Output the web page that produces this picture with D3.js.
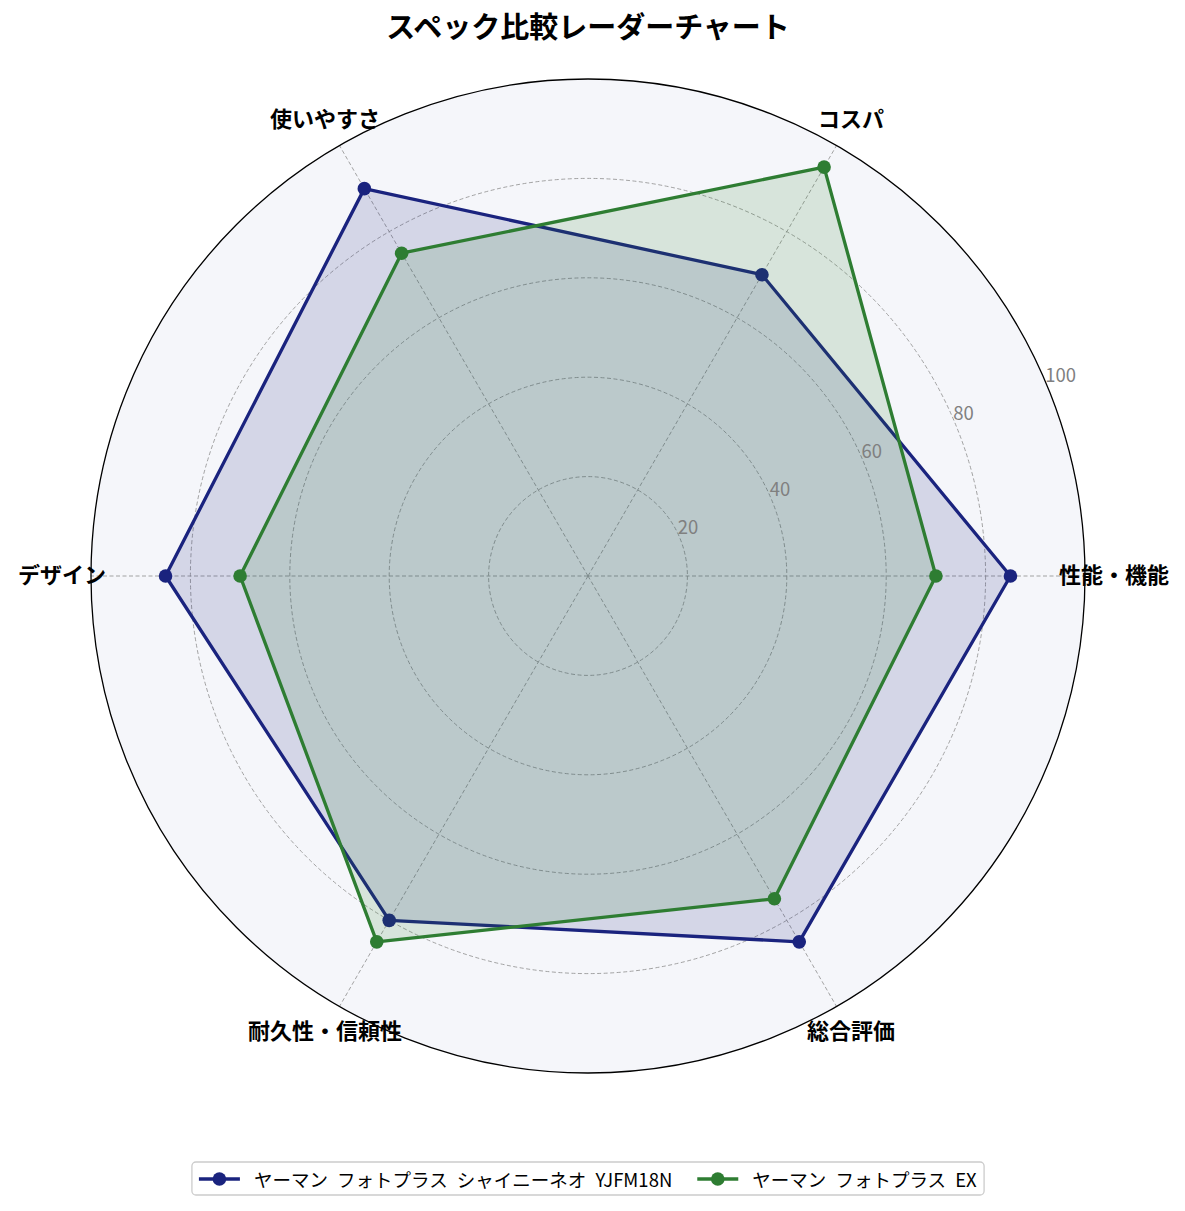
<!DOCTYPE html>
<html>
<head>
<meta charset="utf-8">
<script src="https://cdn.jsdelivr.net/npm/d3@7"></script>
<style>
  body { margin: 0; background: #fff; }
  svg { display: block; font-family: "Noto Sans CJK JP", "Noto Sans", sans-serif; }
</style>
</head>
<body>
<svg></svg>
<script>
const categories = ["性能・機能", "コスパ", "使いやすさ", "デザイン", "耐久性・信頼性", "総合評価"];
const seriesNames = ["ヤーマン フォトプラス シャイニーネオ YJFM18N", "ヤーマン フォトプラス EX"];
const seriesColors = ["#1a237e", "#2e7d32"];
const neoValues = [85, 70, 90, 85, 80, 85];
const exValues = [70, 95, 75, 70, 85, 75];
const ticks = [20, 40, 60, 80, 100];

const width = 1185,
    height = 1211,
    cx = 588,
    cy = 576,
    outer = 497;

const svg = d3.select("svg")
    .attr("width", width)
    .attr("height", height);

const r = d3.scaleLinear().domain([0, 100]).range([0, outer]);
// angles counter-clockwise from the right, like matplotlib polar
const angle = d3.scaleLinear().domain([0, categories.length]).range([0, 2 * Math.PI]);
const px = (i, v) => cx + r(v) * Math.cos(angle(i));
const py = (i, v) => cy - r(v) * Math.sin(angle(i));

// title
svg.append("text")
    .attr("x", cx)
    .attr("y", 38)
    .attr("text-anchor", "middle")
    .attr("font-size", 29)
    .attr("font-weight", "bold")
    .text("スペック比較レーダーチャート");

// plot background
svg.append("circle")
    .attr("cx", cx).attr("cy", cy).attr("r", outer)
    .attr("fill", "#f5f6fa");

// grid circles
svg.selectAll(".grid")
    .data(ticks.slice(0, -1))
    .join("circle")
    .attr("cx", cx).attr("cy", cy)
    .attr("r", d => r(d))
    .attr("fill", "none")
    .attr("stroke", "#999")
    .attr("stroke-width", 0.9)
    .attr("stroke-dasharray", "4,2.5");

// spokes
svg.selectAll(".spoke")
    .data(categories)
    .join("line")
    .attr("x1", cx).attr("y1", cy)
    .attr("x2", (d, i) => px(i, 100))
    .attr("y2", (d, i) => py(i, 100))
    .attr("stroke", "#999")
    .attr("stroke-width", 0.9)
    .attr("stroke-dasharray", "4,2.5");

const line = d3.line().x(d => d[0]).y(d => d[1]).curve(d3.curveLinearClosed);

[neoValues, exValues].forEach((vals, s) => {
    const pts = vals.map((v, i) => [px(i, v), py(i, v)]);
    const g = svg.append("g");
    g.append("path")
        .attr("d", line(pts))
        .attr("fill", seriesColors[s])
        .attr("fill-opacity", 0.15)
        .attr("stroke", "none");
    g.append("path")
        .attr("d", line(pts))
        .attr("fill", "none")
        .attr("stroke", seriesColors[s])
        .attr("stroke-width", 3.3)
        .attr("stroke-linejoin", "round");
    g.selectAll("circle")
        .data(pts)
        .join("circle")
        .attr("cx", d => d[0]).attr("cy", d => d[1])
        .attr("r", 6.8)
        .attr("fill", seriesColors[s]);
});

// outer frame
svg.append("circle")
    .attr("cx", cx).attr("cy", cy).attr("r", outer)
    .attr("fill", "none")
    .attr("stroke", "#000")
    .attr("stroke-width", 1.3);

// radial tick labels at 22.5 degrees
const tickAngle = 22.5 * Math.PI / 180;
svg.selectAll(".rtick")
    .data(ticks)
    .join("text")
    .attr("x", d => cx + r(d) * Math.cos(tickAngle) - 2)
    .attr("y", d => cy - r(d) * Math.sin(tickAngle) - 4)
    .attr("font-size", 18.5)
    .attr("fill", "#808080")
    .text(d => d);

// category labels
svg.selectAll(".cat")
    .data(categories)
    .join("text")
    .attr("x", (d, i) => cx + 526 * Math.cos(angle(i)))
    .attr("y", (d, i) => cy - 526 * Math.sin(angle(i)) - 3)
    .attr("text-anchor", "middle")
    .attr("dominant-baseline", "central")
    .attr("font-size", 22)
    .attr("font-weight", "bold")
    .text(d => d);

// legend
const legend = svg.append("g");
const box = legend.append("rect")
    .attr("rx", 4)
    .attr("fill", "#fff")
    .attr("stroke", "#ccc")
    .attr("stroke-width", 1.3);
let x = 0;
seriesNames.forEach((name, s) => {
    const it = legend.append("g").attr("transform", `translate(${x},0)`);
    it.append("line")
        .attr("x1", 0).attr("x2", 41).attr("y1", 0).attr("y2", 0)
        .attr("stroke", seriesColors[s]).attr("stroke-width", 3.3);
    it.append("circle").attr("cx", 20.5).attr("cy", 0).attr("r", 6.8).attr("fill", seriesColors[s]);
    const t = it.append("text")
        .attr("x", 55).attr("y", 0)
        .attr("dominant-baseline", "central")
        .attr("font-size", 18.5)
        .attr("word-spacing", 5)
        .text(name);
    const w = t.node().getBBox().width;
    x += 55 + w + 25;
});
const total = x - 25;
const lx = cx - total / 2;
legend.attr("transform", `translate(${lx},1179)`);
box.attr("x", -7).attr("y", -17).attr("width", total + 14).attr("height", 33);
</script>
</body>
</html>
